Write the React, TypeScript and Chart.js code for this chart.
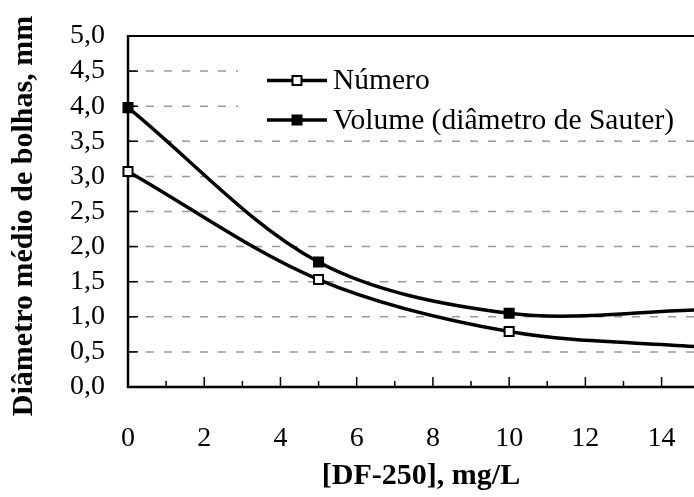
import React, { useEffect, useRef } from "react";
import { Chart, registerables } from "chart.js";

Chart.register(...registerables);

// ---- Data ----
const concentrations = [0, 5, 10, 15];
const numeroValues = [3.07, 1.53, 0.79, 0.57];
const volumeValues = [3.98, 1.78, 1.05, 1.1];
const seriesNames = ["Número", "Volume (diâmetro de Sauter)"];
const xTickValues = [0, 2, 4, 6, 8, 10, 12, 14];
const xMinorTickValues = [1, 3, 5, 7, 9, 11, 13];
const yTickValues = [0, 0.5, 1, 1.5, 2, 2.5, 3, 3.5, 4, 4.5, 5];
const xTitle = "[DF-250], mg/L";
const yTitle = "Diâmetro médio de bolhas, mm";

const X_MAX = 14.85;
const FONT = "'Liberation Serif', 'Times New Roman', serif";

const framePlugin = {
  id: "frame",
  beforeDatasetsDraw(chart: any) {
    const { ctx, chartArea: a, scales } = chart;
    const x = scales.x;
    const y = scales.y;
    const yMin = yTickValues[0];
    const yMax = yTickValues[yTickValues.length - 1];
    ctx.save();
    // dashed grid
    ctx.strokeStyle = "#9a9a9a";
    ctx.lineWidth = 1.5;
    ctx.setLineDash([8, 10]);
    yTickValues.forEach((v) => {
      if (v <= yMin || v >= yMax) return;
      const py = y.getPixelForValue(v);
      ctx.beginPath();
      ctx.moveTo(a.left, py);
      ctx.lineTo(a.right, py);
      ctx.stroke();
    });
    ctx.setLineDash([]);
    ctx.strokeStyle = "#000";
    // y inner ticks
    ctx.lineWidth = 1.5;
    yTickValues.forEach((v) => {
      const py = y.getPixelForValue(v);
      ctx.beginPath();
      ctx.moveTo(a.left, py);
      ctx.lineTo(a.left + 10, py);
      ctx.stroke();
    });
    // x inner ticks
    xTickValues.forEach((v) => {
      const px = x.getPixelForValue(v);
      ctx.beginPath();
      ctx.moveTo(px, a.bottom);
      ctx.lineTo(px, a.bottom - 10);
      ctx.stroke();
    });
    xMinorTickValues.forEach((v) => {
      const px = x.getPixelForValue(v);
      ctx.beginPath();
      ctx.moveTo(px, a.bottom);
      ctx.lineTo(px, a.bottom - 6);
      ctx.stroke();
    });
    // top border
    ctx.lineWidth = 2;
    ctx.beginPath();
    ctx.moveTo(a.left, a.top);
    ctx.lineTo(a.right, a.top);
    ctx.stroke();
    // axes
    ctx.lineWidth = 2.5;
    ctx.beginPath();
    ctx.moveTo(a.left, a.top - 1);
    ctx.lineTo(a.left, a.bottom);
    ctx.lineTo(a.right, a.bottom);
    ctx.stroke();
    ctx.restore();
  },
  afterDraw(chart: any) {
    const { ctx } = chart;
    ctx.save();
    // legend box
    ctx.fillStyle = "#fff";
    ctx.fillRect(238, 52, 460, 85);
    const rows = [
      { y: 80.5, fill: "#fff" },
      { y: 120, fill: "#000" },
    ];
    rows.forEach((r, i) => {
      ctx.strokeStyle = "#000";
      ctx.lineWidth = 3.5;
      ctx.beginPath();
      ctx.moveTo(267, r.y);
      ctx.lineTo(327, r.y);
      ctx.stroke();
      ctx.fillStyle = r.fill;
      ctx.lineWidth = 2;
      ctx.beginPath();
      ctx.rect(297 - 4.5, r.y - 4.5, 9, 9);
      ctx.fill();
      ctx.stroke();
      ctx.fillStyle = "#000";
      ctx.font = `29.5px ${FONT}`;
      ctx.textAlign = "left";
      ctx.textBaseline = "middle";
      ctx.fillText(seriesNames[i], 333, r.y + 1);
    });
    // titles
    ctx.fillStyle = "#000";
    ctx.font = `bold 30px ${FONT}`;
    ctx.textAlign = "center";
    ctx.textBaseline = "middle";
    ctx.fillText(xTitle, 421, 476);
    ctx.translate(24, 216);
    ctx.rotate(-Math.PI / 2);
    ctx.fillText(yTitle, 0, 0);
    ctx.restore();
  },
};

export default function App() {
  const ref = useRef<HTMLCanvasElement | null>(null);
  useEffect(() => {
    if (!ref.current) return;
    const common = {
      borderColor: "#000",
      borderWidth: 3.5,
      tension: 0.33,
      pointStyle: "rect",
      pointRadius: (c: any) => (c.raw && c.raw.x > X_MAX ? 0 : 6.4),
      pointBorderColor: "#000",
      pointBorderWidth: 2,
      clip: false,
    };
    const chart = new Chart(ref.current, {
      type: "line",
      data: {
        datasets: [
          {
            ...common,
            label: seriesNames[0],
            data: concentrations.map((c, i) => ({ x: c, y: numeroValues[i] })),
            pointBackgroundColor: "#fff",
          },
          {
            ...common,
            label: seriesNames[1],
            data: concentrations.map((c, i) => ({ x: c, y: volumeValues[i] })),
            pointBackgroundColor: "#000",
          },
        ] as any,
      },
      options: {
        animation: false,
        responsive: false,
        maintainAspectRatio: false,
        layout: { autoPadding: false, padding: { top: 36, right: 0, left: 0, bottom: 0 } },
        plugins: { legend: { display: false }, tooltip: { enabled: false } },
        scales: {
          x: {
            type: "linear",
            min: 0,
            max: X_MAX,
            grid: { display: false, drawTicks: false },
            border: { display: false },
            afterFit: (s: any) => {
              s.height = 110;
              s.paddingLeft = 0;
              s.paddingRight = 0;
            },
            afterBuildTicks: (s: any) => {
              s.ticks = xTickValues.map((v) => ({ value: v }));
            },
            ticks: {
              padding: 35,
              color: "#000",
              autoSkip: false,
              maxRotation: 0,
              font: { family: FONT, size: 28 },
            },
          },
          y: {
            type: "linear",
            min: 0,
            max: 5,
            grid: { display: false, drawTicks: false },
            border: { display: false },
            afterFit: (s: any) => {
              s.width = 128;
              s.paddingTop = 0;
              s.paddingBottom = 0;
            },
            afterBuildTicks: (s: any) => {
              s.ticks = yTickValues.map((v) => ({ value: v }));
            },
            ticks: {
              padding: 23,
              color: "#000",
              autoSkip: false,
              font: { family: FONT, size: 28 },
              callback: (v: any) => Number(v).toFixed(1).replace(".", ","),
            },
          },
        },
      } as any,
      plugins: [framePlugin],
    });
    return () => chart.destroy();
  }, []);
  return (
    <div style={{ position: "absolute", left: 0, top: 0, width: 694, height: 497, background: "#fff" }}>
      <canvas ref={ref} width={694} height={497} style={{ width: 694, height: 497, display: "block" }} />
    </div>
  );
}
